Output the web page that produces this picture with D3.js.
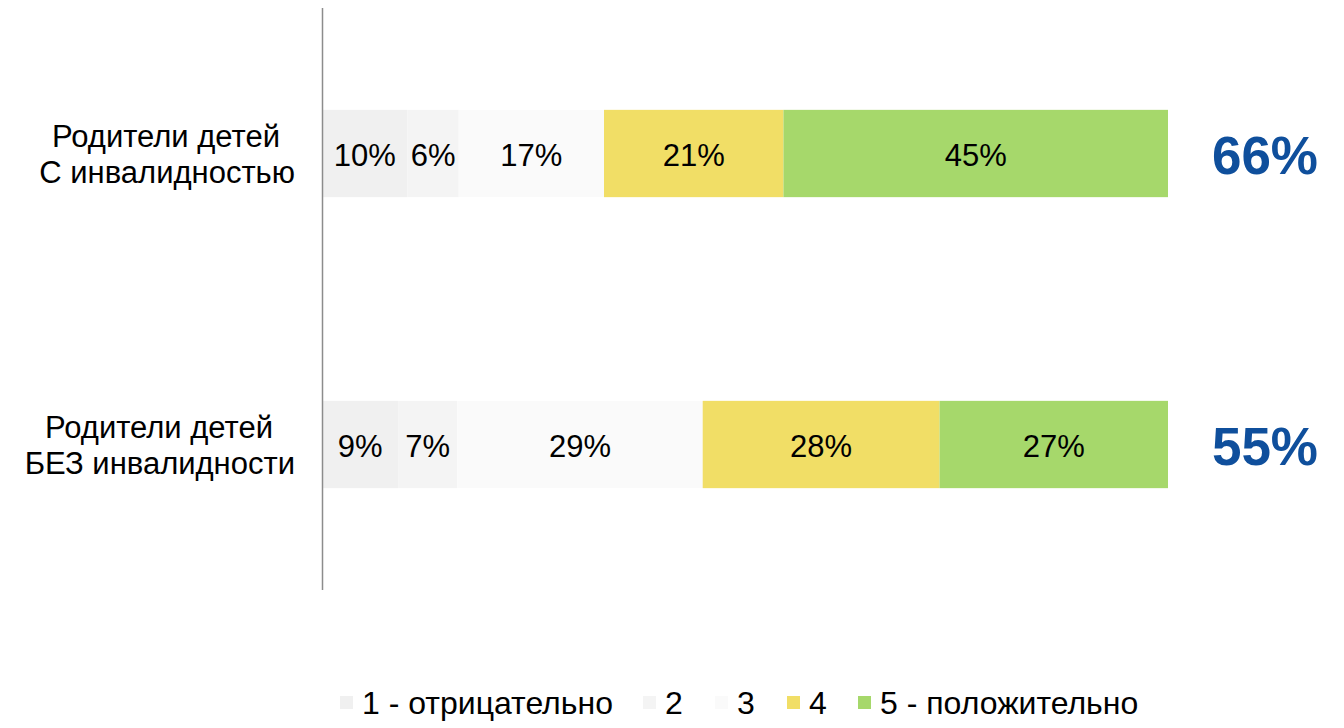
<!DOCTYPE html>
<html>
<head>
<meta charset="utf-8">
<script src="https://cdn.jsdelivr.net/npm/d3@7"></script>
<style>
  body { margin: 0; background: #fff; }
  svg text { font-family: "Liberation Sans", Arial, sans-serif; }
</style>
</head>
<body>
<div id="chart"></div>
<script>
(function() {
  'use strict';

  // data
  var groups = [['Родители детей', 'С инвалидностью'], ['Родители детей', 'БЕЗ инвалидности']];
  var keys = ['1 - отрицательно', '2', '3', '4', '5 - положительно'];
  var withDisability = [10, 6, 17, 21, 45];
  var withoutDisability = [9, 7, 29, 28, 27];
  var totals = [66, 55];
  var colors = ['#f0f0f0', '#f4f4f4', '#fafafa', '#f1de66', '#a6d86b'];

  var width = 1344, height = 728;
  var rows = [withDisability, withoutDisability].map(function(vals, i) {
    var r = { name: i };
    keys.forEach(function(k, j) { r[k] = vals[j]; });
    return r;
  });

  var series = d3.stack().keys(keys).offset(d3.stackOffsetExpand)(rows);

  var x = d3.scaleLinear().domain([0, 1]).range([322, 1168]);
  var y = d3.scaleBand().domain([0, 1]).range([8, 590]).paddingInner(0.7).paddingOuter(0.35);

  var svg = d3.select('#chart').append('svg').attr('width', width).attr('height', height);

  var layer = svg.selectAll('g.layer').data(series).enter().append('g').attr('class', 'layer')
    .attr('fill', function(d, i) { return colors[i]; });

  layer.selectAll('rect').data(function(d) { return d; }).enter().append('rect')
    .attr('x', function(d) { return x(d[0]); })
    .attr('width', function(d) { return x(d[1]) - x(d[0]); })
    .attr('y', function(d, i) { return y(i); })
    .attr('height', y.bandwidth());

  series.forEach(function(s) {
    svg.append('g').selectAll('text').data(s).enter().append('text')
      .attr('x', function(d) { return (x(d[0]) + x(d[1])) / 2; })
      .attr('y', function(d, i) { return y(i) + y.bandwidth() / 2 + 12; })
      .attr('text-anchor', 'middle')
      .style('font-size', '31px')
      .style('fill', '#000')
      .text(function(d) { return d.data[s.key] + '%'; });
  });

  // axis line
  svg.append('line').attr('x1', 322.5).attr('x2', 322.5).attr('y1', 8).attr('y2', 590)
    .attr('stroke', '#8c8c8c').attr('stroke-width', 1.5);

  // category labels
  groups.forEach(function(lines, i) {
    var cy = y(i) + y.bandwidth() / 2;
    var t = svg.append('text').attr('text-anchor', 'end').style('font-size', '31px').style('fill', '#000');
    t.append('tspan').attr('x', 280 - i * 7).attr('y', cy - 7).text(lines[0]);
    t.append('tspan').attr('x', 295).attr('y', cy + 29).text(lines[1]);
  });

  // totals
  svg.selectAll('text.total').data(totals).enter().append('text').attr('class', 'total')
    .attr('x', 1318)
    .attr('y', function(d, i) { return y(i) + y.bandwidth() / 2 + 20; })
    .attr('text-anchor', 'end')
    .style('font-size', '53px').style('font-weight', 'bold').style('fill', '#0f4f9c')
    .text(function(d) { return d + '%'; });

  // legend
  var legendX = [340, 643, 715, 787, 858];
  var legend = svg.append('g').selectAll('g').data(keys).enter().append('g')
    .attr('transform', function(d, i) { return 'translate(' + legendX[i] + ',0)'; });
  legend.append('rect').attr('x', 0).attr('y', 696).attr('width', 13).attr('height', 13)
    .attr('fill', function(d, i) { return colors[i]; });
  legend.append('text').attr('x', 22).attr('y', 714)
    .style('font-size', '32px').style('fill', '#000')
    .text(function(d) { return d; });
})();
</script>
</body>
</html>
